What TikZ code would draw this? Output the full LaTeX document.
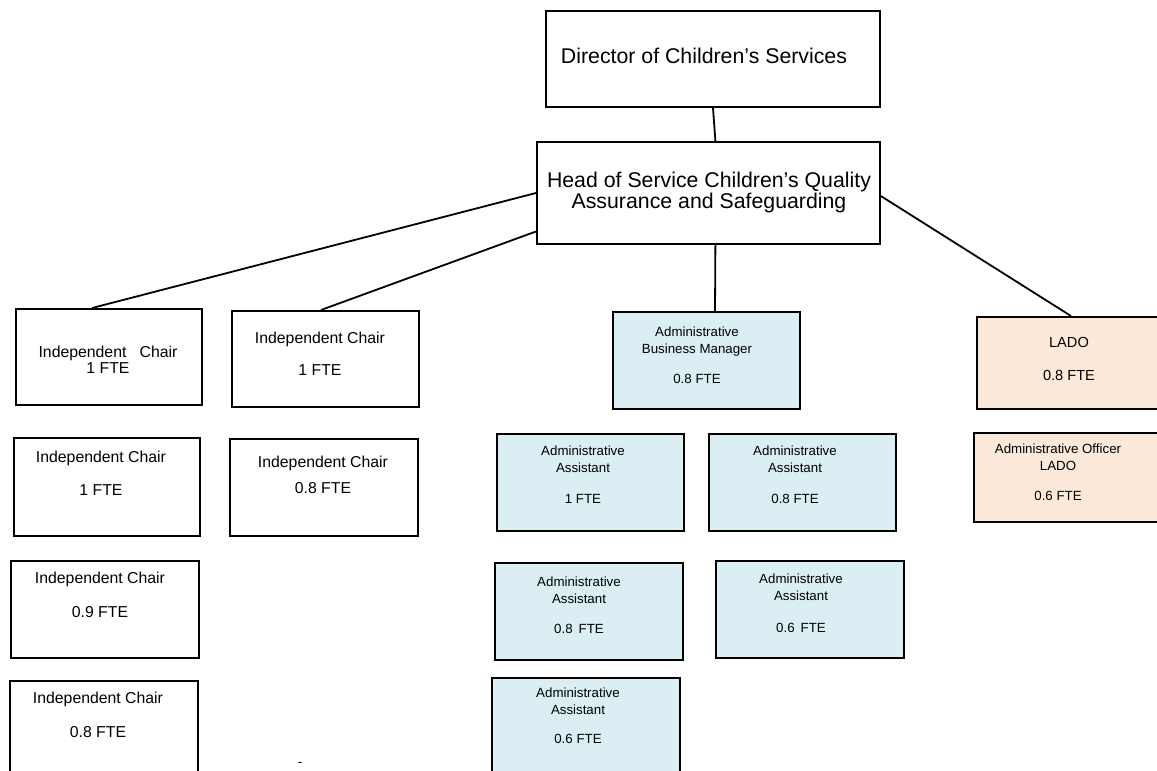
\documentclass[tikz,border=0pt]{standalone}
\usepackage{fontspec}
\setmainfont{Liberation Sans}
\usetikzlibrary{calc}
\definecolor{adminblue}{HTML}{DAEEF3}
\definecolor{ladopeach}{HTML}{FDE9D9}
\tikzset{
  post/.style={draw=black, line width=2pt, inner sep=0pt, anchor=north west},
  adminpost/.style={post, fill=adminblue},
  ladopost/.style={post, fill=ladopeach},
  toptext/.style={anchor=base, inner sep=0pt, align=center, font=\fontsize{21.3}{18}\selectfont},
  chairtext/.style={anchor=base, inner sep=0pt, align=center, font=\fontsize{15.8}{16}\selectfont},
  ladotext/.style={anchor=base, inner sep=0pt, align=center, font=\fontsize{14.6}{16}\selectfont},
  admintext/.style={anchor=base, inner sep=0pt, align=center, font=\fontsize{13.3}{17}\selectfont},
  link/.style={black, line width=1.8pt}
}

\begin{document}
\begin{tikzpicture}[x=1pt, y=-1pt]
\useasboundingbox (0,0) rectangle (1157,771);
\clip (0,0) rectangle (1157,771);

\node[post, minimum width=334pt, minimum height=96pt] (director) at (545,10) {};
\node[post, minimum width=343pt, minimum height=102pt] (head) at (536,141) {};

\node[post, minimum width=186pt, minimum height=96pt] (chairA) at (15,308) {};
\node[post, minimum width=187pt, minimum height=96pt] (chairB) at (231,310) {};
\node[post, minimum width=186pt, minimum height=98pt] (chairC) at (13,437) {};
\node[post, minimum width=188pt, minimum height=97pt] (chairD) at (229,438) {};
\node[post, minimum width=188pt, minimum height=97pt] (chairE) at (10,560) {};
\node[post, minimum width=188pt, minimum height=97pt] (chairF) at (9,680) {};

\node[adminpost, minimum width=187pt, minimum height=97pt] (manager) at (612,311) {};
\node[adminpost, minimum width=187pt, minimum height=97pt] (assistA) at (496,433) {};
\node[adminpost, minimum width=187pt, minimum height=97pt] (assistB) at (708,433) {};
\node[adminpost, minimum width=188pt, minimum height=97pt] (assistC) at (494,562) {};
\node[adminpost, minimum width=188pt, minimum height=97pt] (assistD) at (715,560) {};
\node[adminpost, minimum width=188pt, minimum height=97pt] (assistE) at (491,677) {};

\node[ladopost, minimum width=188pt, minimum height=92pt] (lado) at (976,316) {};
\node[ladopost, minimum width=188pt, minimum height=89pt] (ladoofficer) at (973,432) {};

\draw[link] (director.south) -- ($(head.north west)!0.52!(head.north east)$);
\draw[link] ($(head.north west)!0.5!(head.south west)$) -- ($(chairA.north west)!0.41!(chairA.north east)$);
\draw[link] ($(head.north west)!0.87!(head.south west)$) -- ($(chairB.north west)!0.476!(chairB.north east)$);
\draw[link] ($(head.south west)!0.52!(head.south east)$) -- ($(manager.north west)!0.545!(manager.north east)$);
\draw[link] ($(head.north east)!0.53!(head.south east)$) -- ($(lado.north west)!0.5!(lado.north east)$);

\node[toptext] (directortext) at (704,63) {Director of Children’s Services};
\node[toptext] (headtext) at (709,208) {Head of Service Children’s Quality\\Assurance and Safeguarding};

\node[chairtext] (chairAtext) at (108,373) {Independent\ \ \ Chair\\1 FTE};
\node[chairtext] (chairBtext) at (320,375) {Independent Chair\\[16pt]1 FTE};
\node[chairtext] (chairCtext) at (101,495) {Independent Chair\\[17pt]1 FTE};
\node[chairtext] (chairDtext) at (323,493) {Independent Chair\\[10pt]0.8 FTE};
\node[chairtext] (chairEtext) at (100,617) {Independent Chair\\[18pt]0.9 FTE};
\node[chairtext] (chairFtext) at (98,737) {Independent Chair\\[18pt]0.8 FTE};

\node[admintext] (managertext) at (697,383) {Administrative\\Business Manager\\[13pt]0.8 FTE};
\node[admintext] (assistAtext) at (583,503) {Administrative\\Assistant\\[14pt]1 FTE};
\node[admintext] (assistBtext) at (795,503) {Administrative\\Assistant\\[14pt]0.8 FTE};
\node[admintext] (assistCtext) at (579,633) {Administrative\\Assistant\\[13pt]0.8\ \,FTE};
\node[admintext] (assistDtext) at (801,632) {Administrative\\Assistant\\[15pt]0.6\ \,FTE};
\node[admintext] (assistEtext) at (578,743) {Administrative\\Assistant\\[12pt]0.6 FTE};

\node[ladotext] (ladotext) at (1069,380) {LADO\\[17pt]0.8 FTE};
\node[admintext] (ladoofficertext) at (1058,500) {Administrative Officer\\LADO\\[13pt]0.6 FTE};

\node[admintext] (dash) at (300,766) {-};
\end{tikzpicture}
\end{document}
